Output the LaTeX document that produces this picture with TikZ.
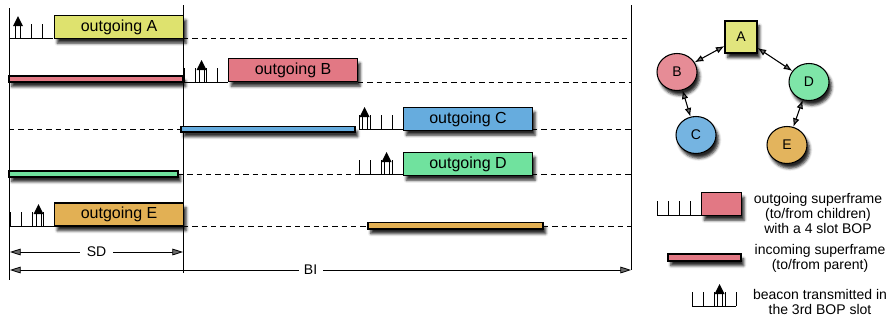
\documentclass[tikz,border=0pt]{standalone}
\usepackage{fontspec}
\setmainfont{Liberation Sans}
\usetikzlibrary{arrows.meta,shadows.blur,shapes.geometric}

\definecolor{frameA}{RGB}{222,226,110}
\definecolor{frameB}{RGB}{226,120,132}
\definecolor{frameC}{RGB}{102,172,222}
\definecolor{frameD}{RGB}{112,226,158}
\definecolor{frameE}{RGB}{226,176,84}

\tikzset{
  shadowed/.style={draw, line width=0.8pt,
    blur shadow={shadow xshift=2pt, shadow yshift=-3.5pt, shadow blur radius=2pt, shadow opacity=85}},
  outbox/.style={shadowed, anchor=south west, minimum width=96.75pt,
    minimum height=17.25pt, inner sep=0pt, font=\fontsize{12}{14}\selectfont},
  slotline/.style={line width=0.6pt},
  gapline/.style={line width=0.6pt, dash pattern=on 4pt off 3pt},
  member/.style={ellipse, shadowed, minimum width=30pt, minimum height=27.75pt,
    inner sep=0pt, font=\fontsize{10.5}{12}\selectfont},
  legendtext/.style={align=center, font=\fontsize{10.5}{11.25}\selectfont}
}

% four BOP slots starting at x, on baseline y
\newcommand\bopslots[2]{%
  \draw[slotline] (#1,#2) -- ++(44,0);
  \foreach \s in {0,...,3} \draw[slotline] (#1+11*\s,#2) -- ++(0,-14);
}
% beacon arrow centred at x, on baseline y
\newcommand\beaconup[2]{%
  \draw[slotline] (#1-2.5,#2) -- ++(0,-12) (#1+2.5,#2) -- ++(0,-12);
  \fill (#1-5,#2-12) -- (#1+5,#2-12) -- (#1,#2-22) -- cycle;
}

\begin{document}
\begin{tikzpicture}[x=0.75pt, y=-0.75pt, >={Triangle[length=8pt,width=5pt]}]
\useasboundingbox (0,0) rectangle (895,322);

% frame
\coordinate (topL) at (9,8);
\coordinate (botL) at (9,280);
\coordinate (topM) at (183,5);
\coordinate (botM) at (183,273);
\coordinate (topR) at (631,5);
\coordinate (botR) at (631,270);
\draw[slotline] (topL) -- (botL);
\draw[slotline] (topM) -- (botM);
\draw[slotline] (topR) -- (botR);

% row A
\bopslots{9}{38}
\beaconup{18}{38}
\node[outbox, fill=frameA] (outA) at (54,39) {outgoing A};
\coordinate (endA) at (631,38);
\draw[gapline] (183,38) -- (endA);

% row B
\path[shadowed, fill=frameB] (9,76) rectangle (183,82);
\bopslots{184}{82}
\beaconup{201.5}{82}
\node[outbox, fill=frameB] (outB) at (228,82) {outgoing B};
\coordinate (endB) at (631,82);
\draw[gapline] (outB.south east) -- (endB);

% row C
\coordinate (startC) at (9,129);
\draw[gapline] (startC) -- (181,129);
\path[shadowed, fill=frameC] (181,126.5) rectangle (355,132);
\bopslots{359}{129}
\beaconup{364.5}{129}
\node[outbox, fill=frameC] (outC) at (403,131) {outgoing C};
\coordinate (endC) at (631,129);
\draw[gapline] (532,129) -- (endC);

% row D
\path[shadowed, fill=frameD] (9,171) rectangle (178,177);
\draw[gapline] (178,174) -- (359,174);
\bopslots{359}{174}
\beaconup{386.5}{174}
\node[outbox, fill=frameD] (outD) at (403,176) {outgoing D};
\coordinate (endD) at (631,174);
\draw[gapline] (532,174) -- (endD);

% row E
\bopslots{10}{226}
\beaconup{38.5}{226}
\node[outbox, fill=frameE] (outE) at (54,226.5) {outgoing E};
\draw[gapline] (183,226) -- (368,226);
\path[shadowed, fill=frameE] (368,222.5) rectangle (543,229);
\coordinate (endE) at (631,226);
\draw[gapline] (543,226) -- (endE);

% durations
\coordinate (sdL) at (10,252);
\coordinate (sdR) at (183,252);
\draw[slotline, <->] (sdL) -- node[fill=white, inner xsep=5pt, font=\fontsize{10.5}{12}\selectfont] (sd) {SD} (sdR);
\coordinate (biL) at (10,270);
\coordinate (biR) at (631,270);
\draw[slotline, <->] (biL) -- node[pos=0.484, fill=white, inner xsep=4pt, font=\fontsize{10.5}{12}\selectfont] (bi) {BI} (biR);

% tree
\node[shadowed, fill=frameA!90!white, minimum size=24pt, inner sep=0pt, font=\fontsize{10.5}{12}\selectfont] (nA) at (741,37) {A};
\node[member, fill=frameB!85!white] (nB) at (677,72) {B};
\node[member, fill=frameC!90!white] (nC) at (696,135) {C};
\node[member, fill=frameD!90!white] (nD) at (809,82) {D};
\node[member, fill=frameE!95!white] (nE) at (787,145) {E};
\begin{scope}[>={Latex[length=6.5pt,width=5pt]}, line width=0.8pt]
  \draw[<->] (nA) -- (nB);
  \draw[<->] (nA) -- (nD);
  \draw[<->] (nB) -- (nC);
  \draw[<->] (nD) -- (nE);
\end{scope}

% legend
\bopslots{657}{215}
\node[outbox, fill=frameB, minimum width=30pt] (keyOut) at (701,216) {};
\node[legendtext] (txtOut) at (818,213) {outgoing superframe\\(to/from children)\\with a 4 slot BOP};
\path[shadowed, fill=frameB] (668,254) rectangle (741,261);
\node[legendtext] (txtIn) at (820,258) {incoming superframe\\(to/from parent)};
\bopslots{692}{306}
\beaconup{719.5}{306}
\draw[slotline] (736,306) -- ++(0,-14);
\node[legendtext] (txtBeacon) at (820,302) {beacon transmitted in\\the 3rd BOP slot};
\end{tikzpicture}
\end{document}
